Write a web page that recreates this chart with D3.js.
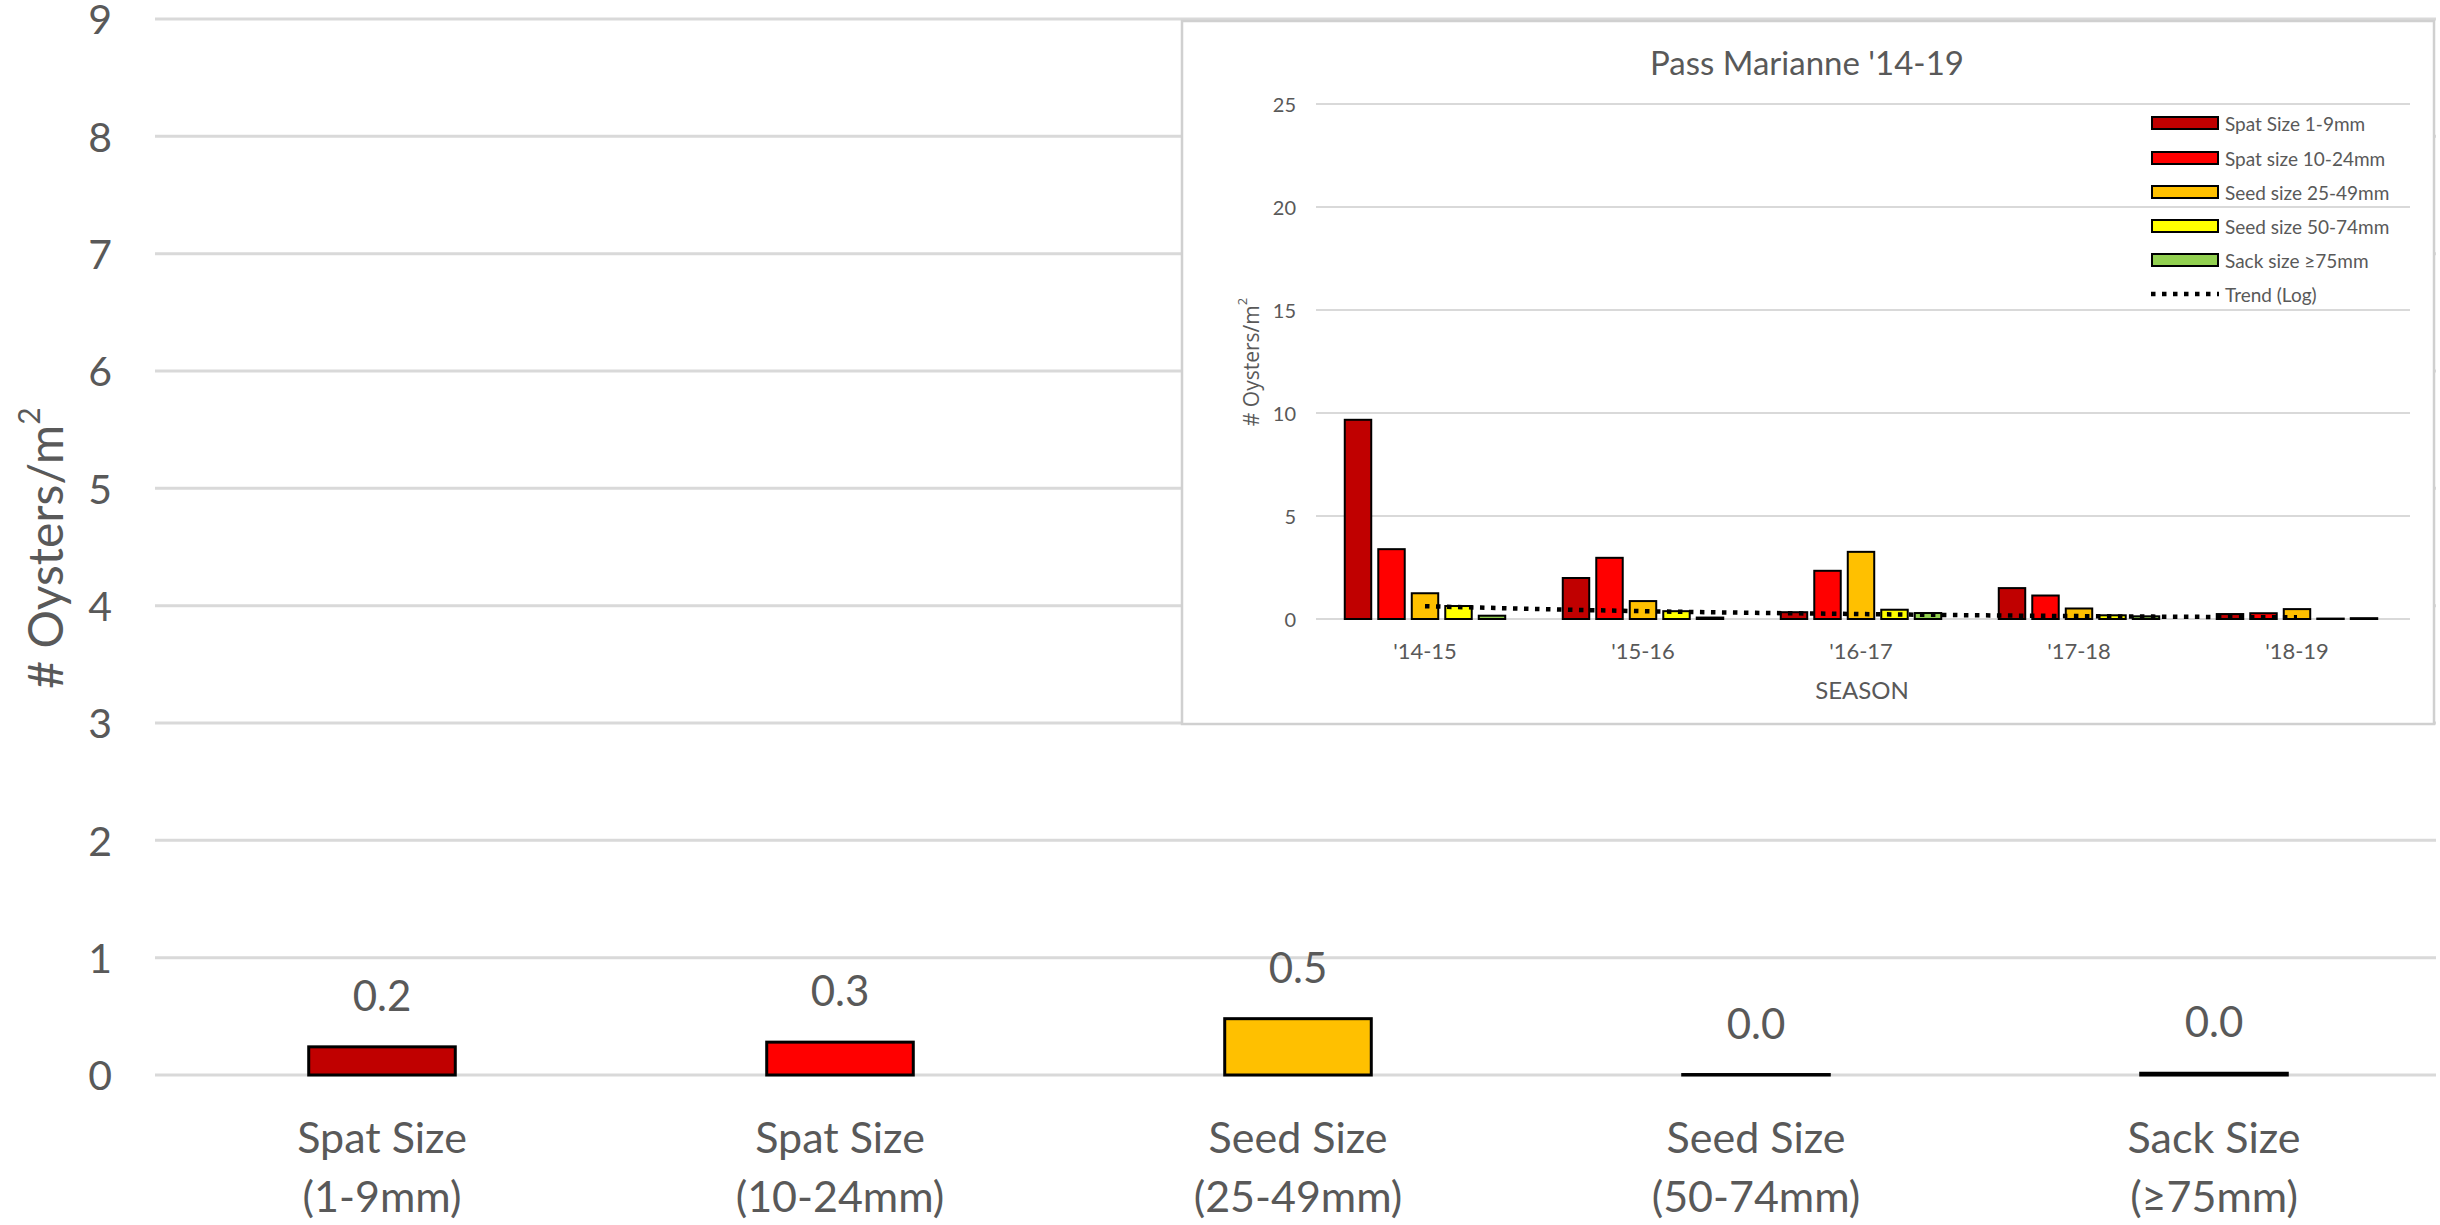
<!DOCTYPE html>
<html>
<head>
<meta charset="utf-8">
<script src="https://cdn.jsdelivr.net/npm/d3@7"></script>
<style>
  html, body { margin: 0; padding: 0; background: #fff; }
  svg { display: block; font-family: Lato, "Open Sans", sans-serif; }
</style>
</head>
<body>
<svg id="chart" width="2440" height="1225"></svg>
<script>
// ---------- Main chart data ----------
const mainCategories = [
  ["Spat Size", "(1-9mm)"],
  ["Spat Size", "(10-24mm)"],
  ["Seed Size", "(25-49mm)"],
  ["Seed Size", "(50-74mm)"],
  ["Sack Size", "(\u226575mm)"]
];
const mainValues = [0.24, 0.28, 0.48, 0.004, 0.015];
const mainTicks = [0, 1, 2, 3, 4, 5, 6, 7, 8, 9];
const sizeColors = ["#C00000", "#FF0000", "#FFC000", "#FFFF00", "#92D050"];

// ---------- Inset chart data ----------
const insetTitle = "Pass Marianne '14-19";
const seasons = ["'14-15", "'15-16", "'16-17", "'17-18", "'18-19"];
const seriesNames = ["Spat Size 1-9mm", "Spat size 10-24mm", "Seed size 25-49mm", "Seed size 50-74mm", "Sack size \u226575mm"];
const spat1to9 = [9.67, 1.99, 0.33, 1.50, 0.24];
const spat10to24 = [3.39, 2.97, 2.34, 1.14, 0.28];
const seed25to49 = [1.25, 0.87, 3.26, 0.51, 0.48];
const seed50to74 = [0.63, 0.38, 0.45, 0.18, 0.02];
const sack75 = [0.16, 0.07, 0.29, 0.13, 0.04];
const trendLog = [0.62, 0.38, 0.24, 0.14, 0.08];
const insetTicks = [0, 5, 10, 15, 20, 25];

const seriesValues = [spat1to9, spat10to24, seed25to49, seed50to74, sack75];
const textColor = "#595959";
const gridColor = "#d9d9d9";

const svg = d3.select("#chart");
svg.append("rect").attr("width", 2440).attr("height", 1225).attr("fill", "#fff");

// ===== Main chart =====
const my = d3.scaleLinear().domain([0, 9]).range([1075, 19]);
const mx = d3.scaleBand().domain(d3.range(mainCategories.length)).range([153, 2443])
  .paddingInner(0.68).paddingOuter(0.34);

const gMain = svg.append("g");
gMain.selectAll("line.grid").data(mainTicks).join("line")
  .attr("class", "grid")
  .attr("x1", 155).attr("x2", 2436)
  .attr("y1", d => my(d)).attr("y2", d => my(d))
  .attr("stroke", gridColor).attr("stroke-width", 3);

const yAxis = d3.axisLeft(my).tickValues(mainTicks).tickSize(0).tickPadding(0).tickFormat(d3.format("d"));
const yAxisG = gMain.append("g").attr("transform", "translate(112,0)").call(yAxis);
yAxisG.select(".domain").remove();
yAxisG.selectAll("text").attr("fill", textColor).attr("font-size", 41)
  .attr("font-family", "Lato, sans-serif").attr("dy", "0.36em");

gMain.append("text")
  .attr("transform", "translate(44,548) rotate(-90)")
  .attr("text-anchor", "middle").attr("dominant-baseline", "central")
  .attr("fill", textColor).attr("font-size", 48)
  .html("# Oysters/m<tspan font-size='30' dy='-16'>2</tspan>");

gMain.selectAll("rect.bar").data(mainValues).join("rect")
  .attr("class", "bar")
  .attr("x", (d, i) => mx(i)).attr("width", mx.bandwidth())
  .attr("y", d => my(d)).attr("height", d => my(0) - my(d))
  .attr("fill", (d, i) => sizeColors[i])
  .attr("stroke", "#000").attr("stroke-width", 3);

gMain.selectAll("text.val").data(mainValues).join("text")
  .attr("class", "val")
  .attr("x", (d, i) => mx(i) + mx.bandwidth() / 2)
  .attr("y", d => my(d) - 36)
  .attr("text-anchor", "middle").attr("fill", textColor).attr("font-size", 42)
  .text(d => d.toFixed(1));

const catG = gMain.selectAll("g.cat").data(mainCategories).join("g")
  .attr("class", "cat")
  .attr("transform", (d, i) => `translate(${mx(i) + mx.bandwidth() / 2},0)`);
catG.append("text").attr("y", 1153).attr("text-anchor", "middle")
  .attr("fill", textColor).attr("font-size", 43).text(d => d[0]);
catG.append("text").attr("y", 1212).attr("text-anchor", "middle")
  .attr("fill", textColor).attr("font-size", 43).text(d => d[1]);

// ===== Inset chart =====
const gIn = svg.append("g");
gIn.append("rect").attr("x", 1182).attr("y", 21).attr("width", 1252).attr("height", 703)
  .attr("fill", "#fff").attr("stroke", "#d0d0d0").attr("stroke-width", 2.5);

gIn.append("text").attr("x", 1807).attr("y", 75).attr("text-anchor", "middle")
  .attr("fill", textColor).attr("font-size", 33).text(insetTitle);

const iy = d3.scaleLinear().domain([0, 25]).range([619, 104]);
const ix = d3.scaleBand().domain(seasons).range([1316, 2406]).padding(0);
const ixInner = d3.scaleBand().domain(d3.range(seriesNames.length))
  .range([-83.75, 83.75]).paddingInner(0.21).paddingOuter(0.105);

gIn.selectAll("line.igrid").data(insetTicks).join("line")
  .attr("class", "igrid")
  .attr("x1", 1316).attr("x2", 2410)
  .attr("y1", d => iy(d)).attr("y2", d => iy(d))
  .attr("stroke", gridColor).attr("stroke-width", 2);

const iyAxis = d3.axisLeft(iy).tickValues(insetTicks).tickSize(0).tickPadding(0);
const iyG = gIn.append("g").attr("transform", "translate(1296,0)").call(iyAxis);
iyG.select(".domain").remove();
iyG.selectAll("text").attr("fill", textColor).attr("font-size", 20)
  .attr("font-family", "Lato, sans-serif").attr("dy", "0.36em");

const ixAxis = d3.axisBottom(ix).tickSize(0).tickPadding(0);
const ixG = gIn.append("g").attr("transform", "translate(0,651)").call(ixAxis);
ixG.select(".domain").remove();
ixG.selectAll("text").attr("fill", textColor).attr("font-size", 22)
  .attr("font-family", "Lato, sans-serif").attr("dy", "0.36em");

gIn.append("text").attr("x", 1862).attr("y", 689).attr("text-anchor", "middle")
  .attr("dominant-baseline", "central")
  .attr("fill", textColor).attr("font-size", 24).text("SEASON");

gIn.append("text")
  .attr("transform", "translate(1251,362) rotate(-90)")
  .attr("text-anchor", "middle").attr("dominant-baseline", "central")
  .attr("fill", textColor).attr("font-size", 21).attr("font-family", "'Open Sans', sans-serif")
  .html("# Oysters/m<tspan font-size='13' dy='-9'>2</tspan>");

seriesValues.forEach((vals, si) => {
  gIn.selectAll(null).data(vals).join("rect")
    .attr("x", (d, i) => ix(seasons[i]) + ix.bandwidth() / 2 + ixInner(si))
    .attr("width", ixInner.bandwidth())
    .attr("y", d => iy(d)).attr("height", d => iy(0) - iy(d))
    .attr("fill", sizeColors[si]).attr("stroke", "#000").attr("stroke-width", 2);
});

const trendLine = d3.line()
  .x((d, i) => ix(seasons[i]) + ix.bandwidth() / 2)
  .y(d => iy(d))
  .curve(d3.curveMonotoneX);
gIn.append("path").datum(trendLog).attr("d", trendLine)
  .attr("fill", "none").attr("stroke", "#000").attr("stroke-width", 4.5)
  .attr("stroke-dasharray", "4.5 6.5");

// Legend
const legendRows = [123, 158, 192, 226, 260, 294];
const legG = gIn.append("g");
seriesNames.forEach((name, i) => {
  legG.append("rect").attr("x", 2152).attr("y", legendRows[i] - 6).attr("width", 66).attr("height", 12)
    .attr("fill", sizeColors[i]).attr("stroke", "#000").attr("stroke-width", 2);
  legG.append("text").attr("x", 2225).attr("y", legendRows[i]).attr("dominant-baseline", "central")
    .attr("fill", textColor).attr("font-size", 19).text(name);
});
legG.append("line").attr("x1", 2151).attr("x2", 2219).attr("y1", legendRows[5]).attr("y2", legendRows[5])
  .attr("stroke", "#000").attr("stroke-width", 4.5).attr("stroke-dasharray", "4.5 6.5");
legG.append("text").attr("x", 2225).attr("y", legendRows[5]).attr("dominant-baseline", "central")
  .attr("fill", textColor).attr("font-size", 19).text("Trend (Log)");
</script>
</body>
</html>
